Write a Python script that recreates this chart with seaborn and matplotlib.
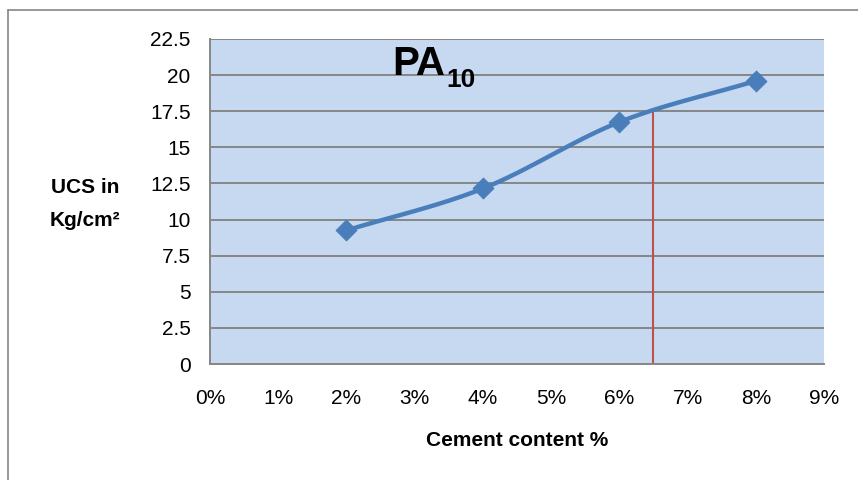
import numpy as np
import matplotlib
matplotlib.use("Agg")
import matplotlib.pyplot as plt
import seaborn as sns
from matplotlib.lines import Line2D

cement = [2, 4, 6, 8]            # cement content %
ucs = [9.25, 12.15, 16.75, 19.6]  # UCS in Kg/cm2
marker_x = 6.5                    # red reading line
marker_y = 17.5
x_ticks = [0, 1, 2, 3, 4, 5, 6, 7, 8, 9]
y_ticks = [0, 2.5, 5, 7.5, 10, 12.5, 15, 17.5, 20, 22.5]


# excel style smoothed line (catmull-rom through the points)
def smooth(xs, ys, n=30):
	px = [2*xs[0]-xs[1]] + list(xs) + [2*xs[-1]-xs[-2]]
	py = [2*ys[0]-ys[1]] + list(ys) + [2*ys[-1]-ys[-2]]
	out_x, out_y = [], []
	for i in range(1, len(px)-2):
		t = np.linspace(0, 1, n)
		for p, out in ((px, out_x), (py, out_y)):
			p0, p1, p2, p3 = p[i-1], p[i], p[i+1], p[i+2]
			out.extend(0.5*((2*p1) + (-p0+p2)*t + (2*p0-5*p1+4*p2-p3)*t**2 + (-p0+3*p1-3*p2+p3)*t**3))
	return out_x, out_y


sns.set_style("white")
plt.rcParams['font.family'] = ['Liberation Sans', 'DejaVu Sans']
plt.rcParams['text.color'] = 'black'
plt.rcParams['xtick.labelcolor'] = 'black'
plt.rcParams['ytick.labelcolor'] = 'black'

fig = plt.figure(figsize=(8.58, 4.8), dpi=100)
ax = fig.add_axes([210/858, 1-364/480, 614/858, 325/480])
ax.set_facecolor("#C6D9F1")

sx, sy = smooth(cement, ucs)
ax.plot(sx, sy, color="#4A7EBB", lw=3.2, zorder=3, solid_capstyle="round")
sns.scatterplot(x=cement, y=ucs, marker="D", s=110, color="#4A7EBB", edgecolor="#4A7EBB", ax=ax, zorder=4)
ax.plot([marker_x, marker_x], [0, marker_y], color="#C0504D", lw=1.5, zorder=2)

ax.set_xlim(0, 9)
ax.set_ylim(0, 22.5)
ax.set_xticks(x_ticks)
ax.set_xticklabels([str(t) + "%" for t in x_ticks])
ax.set_yticks(y_ticks)
ax.set_yticklabels(["%g" % t for t in y_ticks])
ax.yaxis.grid(True, color="#868686", lw=1.4)
ax.set_axisbelow(True)
for s in ["top", "right"]:
	ax.spines[s].set_visible(False)
for s in ["left", "bottom"]:
	ax.spines[s].set_color("#868686")
	ax.spines[s].set_linewidth(1.4)
ax.tick_params(axis="both", which="both", direction="out", length=6, width=1.4, color="#868686", labelsize=15, pad=8)
ax.tick_params(axis="x", pad=12)

fig.text(392/858, 1-75/480, "PA", fontsize=29, fontweight="bold", ha="left", va="baseline")
fig.text(446/858, 1-87/480, "10", fontsize=19, fontweight="bold", ha="left", va="baseline")

fig.text(85/858, 1-204/480, "UCS in\nKg/cm²", fontsize=15, fontweight="bold", ha="center", va="center", linespacing=1.9)
fig.text(517/858, 1-440/480, "Cement content %", fontsize=15, fontweight="bold", ha="center", va="center")

# chart border
fig.add_artist(Line2D([8/858, 8/858], [0, 1-10/480], transform=fig.transFigure, color="#868686", lw=1.2))
fig.add_artist(Line2D([8/858, 1], [1-10/480, 1-10/480], transform=fig.transFigure, color="#868686", lw=1.2))

plt.savefig("out.png", dpi=100)
